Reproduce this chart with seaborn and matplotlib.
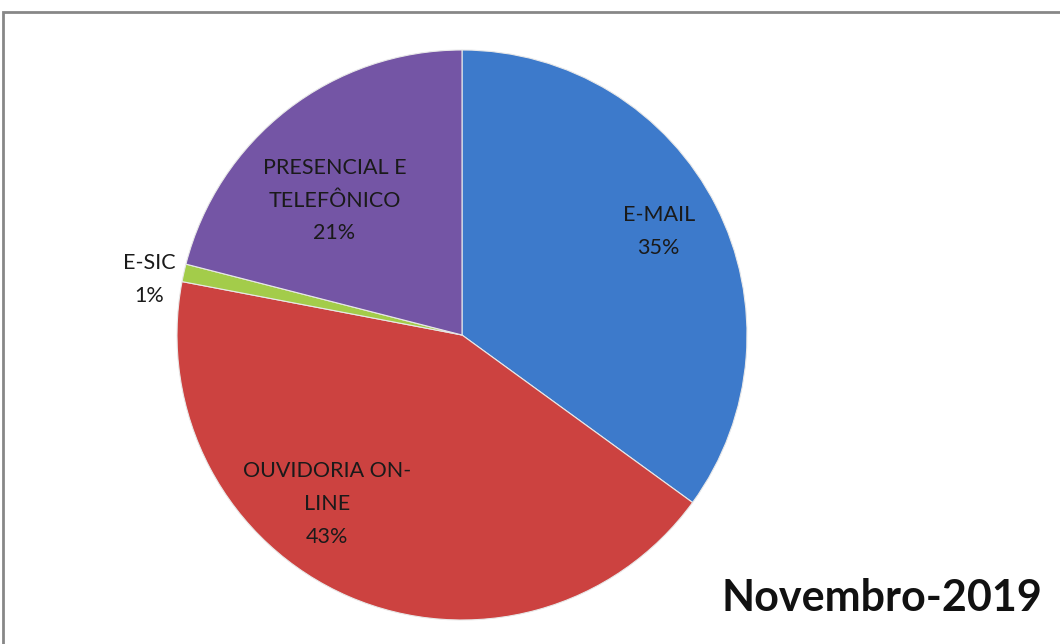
import numpy as np
import matplotlib
matplotlib.use("Agg")
import matplotlib.pyplot as plt
import seaborn as sns
from matplotlib.patches import Rectangle

categories = ["E-MAIL", "OUVIDORIA ON-\nLINE", "E-SIC", "PRESENCIAL E\nTELEFÔNICO"]
percent = [35, 43, 1, 21]
colors = ["#3d7acb", "#cc4240", "#a3cc4a", "#7455a5"]
title = "Novembro-2019"

sns.set_theme(style="white")
plt.rcParams["font.family"] = ["Lato", "DejaVu Sans"]

fig = plt.figure(figsize=(10.6, 6.44), dpi=100)
# axes placed so the pie sits left of centre like the original
ax = fig.add_axes([177 / 1060, 24 / 644, 570 / 1060, 570 / 644])

wedges, _ = ax.pie(percent, colors=colors, startangle=90, counterclock=False,
                   radius=1.0, wedgeprops=dict(edgecolor="#e8e8e8", linewidth=0.8))
ax.set_xlim(-1, 1)
ax.set_ylim(-1, 1)
ax.set_aspect("equal")
ax.axis("off")

# label placement: (radius factor, angle shift in degrees) per slice
label_pos = [(0.78, 0.8), (0.76, -15.2), (1.115, 2.6), (0.65, 5.7)]
for w, cat, p, (rf, da) in zip(wedges, categories, percent, label_pos):
    mid = np.deg2rad((w.theta1 + w.theta2) / 2 + da)
    ax.text(rf * np.cos(mid), rf * np.sin(mid), f"{cat}\n{p}%", ha="center",
            va="center", fontsize=15.5, color="#1a1a1a", linespacing=1.8)

fig.text(1042 / 1060, 1 - 598 / 644, title, ha="right", va="center",
         fontsize=31, fontweight="bold", color="#111111")

fig.patches.append(Rectangle((3 / 1060, -0.05), 1.1, 1 - 12 / 644 + 0.05,
                             transform=fig.transFigure, fill=False,
                             edgecolor="#878787", linewidth=2, clip_on=False))

fig.savefig("out.png", dpi=100)
